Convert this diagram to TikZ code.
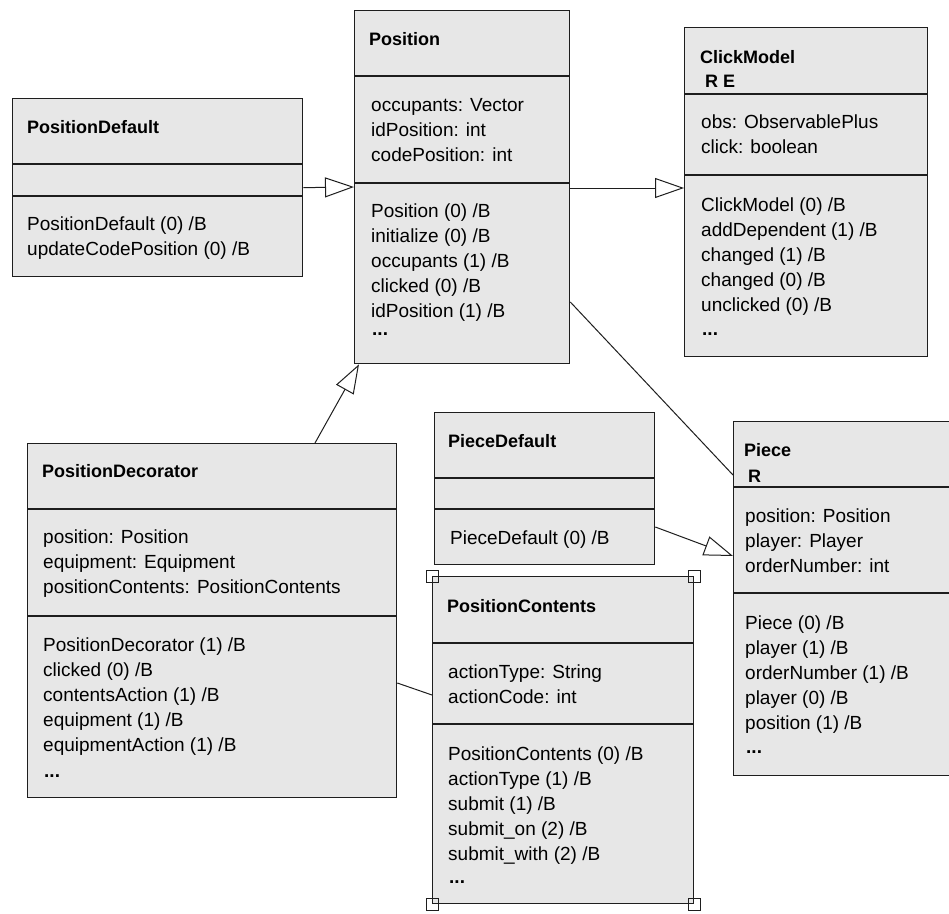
\documentclass[tikz,border=0pt]{standalone}
\usepackage{fontspec}
\setmainfont{Liberation Sans}
\usetikzlibrary{arrows.meta}
\definecolor{boxgray}{RGB}{231,231,231}
\definecolor{linec}{RGB}{30,30,30}
\newcommand\umldiv[2]{\draw[divl] ([yshift=-#2pt]#1.north west) -- ([yshift=-#2pt]#1.north east);}
\newcommand\umllines[4]{\foreach \t [count=\i] in {#4} {\node[txt, name=#1\i] at (#2, {#3+25*(\i-1)}) {\t};}}
\begin{document}
\begin{tikzpicture}[x=1pt,y=-1pt,
  cls/.style={draw=linec, fill=boxgray, line width=1.3pt, rectangle, anchor=north west, inner sep=0pt},
  divl/.style={draw=linec, line width=1.3pt},
  ttl/.style={anchor=base west, inner sep=0pt, font=\fontsize{18}{25}\selectfont\bfseries},
  txt/.style={anchor=base west, inner sep=0pt, font=\fontsize{19}{25}\selectfont},
  gen/.style={draw=linec, line width=1pt, -{Triangle[open, length=29pt, width=20pt]}},
  assoc/.style={draw=linec, line width=1pt},
  handle/.style={draw=linec, line width=1pt, rectangle, minimum size=12pt, inner sep=0pt}]
\useasboundingbox (0,0) rectangle (949,913);
\fill[white] (0,0) rectangle (949,913);

% PositionDefault
\node[cls, minimum width=290pt, minimum height=178pt] (posdef) at (12,98) {};
\umldiv{posdef}{66}\umldiv{posdef}{98}
\node[ttl] (posdef-t) at (27,133) {PositionDefault};
\umllines{posdef-m}{27}{230}{PositionDefault (0) /B, updateCodePosition (0) /B}

% Position
\node[cls, minimum width=215pt, minimum height=353pt] (position) at (354,10) {};
\umldiv{position}{66}\umldiv{position}{173}
\node[ttl] (position-t) at (369,45) {Position};
\umllines{position-f}{371}{111}{occupants: Vector, idPosition: int, codePosition: int}
\umllines{position-m}{371}{217}{Position (0) /B, initialize (0) /B, occupants (1) /B, clicked (0) /B, idPosition (1) /B}
\node[txt, font=\fontsize{19}{25}\selectfont\bfseries] (position-d) at (372,335) {...};

% ClickModel
\node[cls, minimum width=243pt, minimum height=329pt] (click) at (684,27) {};
\umldiv{click}{67}\umldiv{click}{148}
\node[ttl] (click-t) at (700,63) {ClickModel};
\node[ttl] (click-s) at (705,87) {R E};
\umllines{click-f}{701}{128}{obs: ObservablePlus, click: boolean}
\umllines{click-m}{701}{211}{ClickModel (0) /B, addDependent (1) /B, changed (1) /B, changed (0) /B, unclicked (0) /B}
\node[txt, font=\fontsize{19}{25}\selectfont\bfseries] (click-d) at (702,335) {...};

% PositionDecorator
\node[cls, minimum width=369pt, minimum height=354pt] (posdec) at (27,443) {};
\umldiv{posdec}{66}\umldiv{posdec}{173}
\node[ttl] (posdec-t) at (42,477) {PositionDecorator};
\umllines{posdec-f}{43}{543}{position: Position, equipment: Equipment, positionContents: PositionContents}
\umllines{posdec-m}{43}{651}{PositionDecorator (1) /B, clicked (0) /B, contentsAction (1) /B, equipment (1) /B, equipmentAction (1) /B}
\node[txt, font=\fontsize{19}{25}\selectfont\bfseries] (posdec-d) at (44,777) {...};

% PieceDefault
\node[cls, minimum width=220pt, minimum height=152pt] (piecedef) at (434,412) {};
\umldiv{piecedef}{66}\umldiv{piecedef}{97}
\node[ttl] (piecedef-t) at (448,447) {PieceDefault};
\node[txt] (piecedef-m1) at (450,544) {PieceDefault (0) /B};

% Piece
\node[cls, minimum width=290pt, minimum height=354pt] (piece) at (733,421) {};
\umldiv{piece}{66}\umldiv{piece}{172}
\node[ttl] (piece-t) at (744,456) {Piece};
\node[ttl] (piece-s) at (748,482) {R};
\umllines{piece-f}{745}{522}{position: Position, player: Player, orderNumber: int}
\umllines{piece-m}{745}{629}{Piece (0) /B, player (1) /B, orderNumber (1) /B, player (0) /B, position (1) /B}
\node[txt, font=\fontsize{19}{25}\selectfont\bfseries] (piece-d) at (746,753) {...};

% PositionContents
\node[cls, minimum width=261pt, minimum height=327pt] (poscon) at (432,576) {};
\umldiv{poscon}{67}\umldiv{poscon}{148}
\node[ttl] (poscon-t) at (447,612) {PositionContents};
\umllines{poscon-f}{448}{678}{actionType: String, actionCode: int}
\umllines{poscon-m}{448}{760}{PositionContents (0) /B, actionType (1) /B, submit (1) /B, submit\_on (2) /B, submit\_with (2) /B}
\node[txt, font=\fontsize{19}{25}\selectfont\bfseries] (poscon-d) at (449,883) {...};
\node[handle] (h1) at (poscon.north west) {};
\node[handle] (h2) at (poscon.north east) {};
\node[handle] (h3) at (poscon.south west) {};
\node[handle] (h4) at (poscon.south east) {};

% connectors
\draw[gen] (posdef.east) -- ([yshift=-177pt]position.north west);
\draw[gen] ([yshift=-178pt]position.north east) -- ([yshift=-161pt]click.north west);
\draw[gen] ([xshift=288pt]posdec.north west) -- ([xshift=5pt]position.south west);
\draw[assoc] ([yshift=-292pt]position.north east) -- ([yshift=-54pt]piece.north west);
\draw[gen] ([yshift=-115pt]piecedef.north east) -- ([yshift=-135pt]piece.north west);
\draw[assoc] ([yshift=-240pt]posdec.north east) -- ([yshift=-119pt]poscon.north west);
\end{tikzpicture}
\end{document}
